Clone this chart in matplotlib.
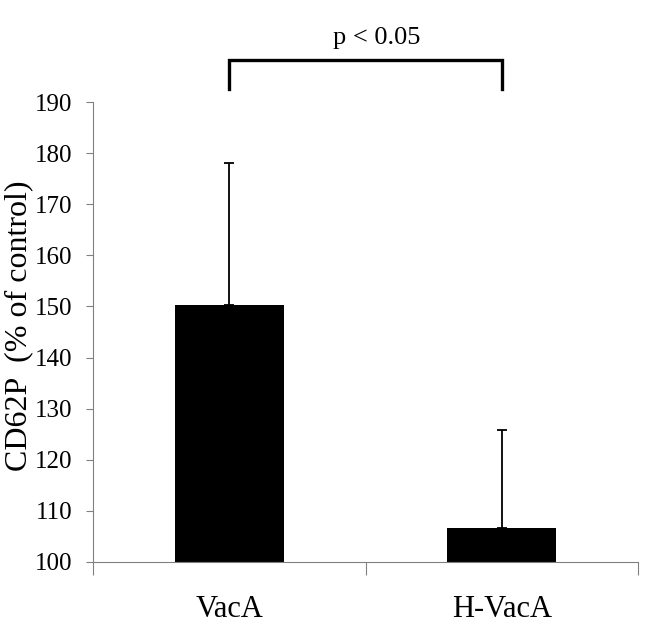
import numpy as np
import matplotlib
matplotlib.use('Agg')
import matplotlib.pyplot as plt

groups = ['VacA', 'H-VacA']
means = [150.3, 106.6]
err_up = [27.8, 19.2]
ticks_y = [100, 110, 120, 130, 140, 150, 160, 170, 180, 190]
p_text = 'p < 0.05'

plt.rcParams['font.family'] = ['Liberation Serif', 'DejaVu Serif']

fig = plt.figure(figsize=(6.56, 6.24), dpi=100)
ax = fig.add_axes([0.1418, 0.0994, 0.8308, 0.7371])

x = np.arange(len(groups))
ax.bar(x, np.array(means) - 100, bottom=100, width=0.4, color='black', zorder=2)
ax.errorbar(x, means, yerr=[np.zeros(len(err_up)), err_up], fmt='none',
            ecolor='black', elinewidth=1.3, capsize=3.5, capthick=1.3, zorder=3)

ax.set_xlim(-0.5, 1.5)
ax.set_ylim(100, 190)
ax.set_yticks(ticks_y)
ax.tick_params(axis='y', labelsize=18, length=5, width=0.8, color='#808080', pad=10)
ax.set_xticks(x)
ax.set_xticklabels(groups, fontsize=22)
ax.tick_params(axis='x', which='major', length=0, pad=24)
ax.set_xticks([-0.5, 0.5, 1.5], minor=True)
ax.tick_params(axis='x', which='minor', length=9, width=0.8, color='#808080')

for s in ['top', 'right']:
    ax.spines[s].set_visible(False)
for s in ['left', 'bottom']:
    ax.spines[s].set_color('#808080')
    ax.spines[s].set_linewidth(0.8)

ax.set_ylabel('CD62P  (% of control)', fontsize=23)
ax.yaxis.set_label_coords(-0.11, 0.513)

# significance bracket
ax.plot([0, 0, 1, 1], [192.5, 198.2, 198.2, 192.5], color='black', lw=2.4,
        clip_on=False, solid_joinstyle='miter')
ax.text(0.54, 201.3, p_text, ha='center', va='baseline', fontsize=19)

fig.savefig('out.png', dpi=100)
